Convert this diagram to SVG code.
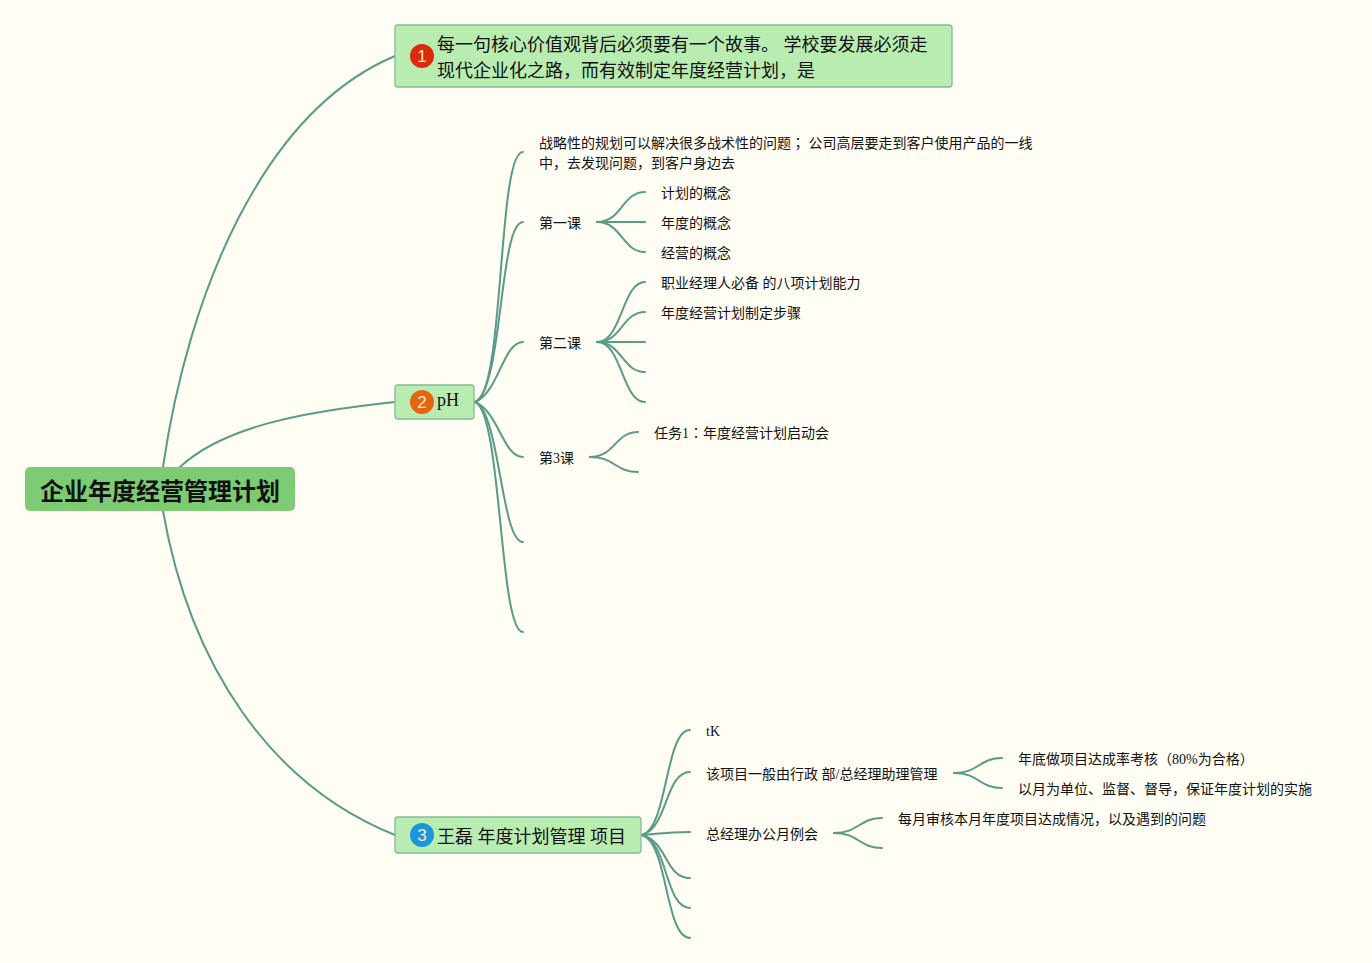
<svg xmlns="http://www.w3.org/2000/svg" width="1372" height="963" viewBox="0 0 1372 963">
<style>
text{font-family:"Liberation Serif","Noto Sans CJK SC",serif;fill:#111;}
.t{font-size:14px;}
.m{font-size:18px;}
.p{font-family:"Noto Sans CJK TC",sans-serif;}
.n{fill:#b9ecb0;stroke:#82bb9a;stroke-width:1.3;}
.c{fill:none;stroke:#5a9a88;stroke-width:2;stroke-linecap:round;}
.b{font-family:"Liberation Sans","Noto Sans",sans-serif;font-size:17px;fill:#ffe9c8;text-anchor:middle;}
</style>
<rect width="1372" height="963" fill="#fffdf4"/>
<g id="connectors">
<path class="c" d="M163 467C188 295 262 112 395 56"/>
<path class="c" d="M180 467C225 425 310 411 395 402"/>
<path class="c" d="M163 511C190 665 270 785 395 835"/>
<path class="c" d="M475 402C505 395 497 152 523 152"/>
<path class="c" d="M475 402C503 390 499 222 523 222"/>
<path class="c" d="M475 402C499 392 503 342 523 342"/>
<path class="c" d="M475 402C499 412 503 457 523 457"/>
<path class="c" d="M475 402C500 412 501 542 523 542"/>
<path class="c" d="M475 402C502 412 499 632 523 632"/>
<path class="c" d="M597 222C622 222 622 192 645 192"/>
<path class="c" d="M597 222H645"/>
<path class="c" d="M597 222C622 222 622 252 645 252"/>
<path class="c" d="M597 342C622 342 622 282 645 282"/>
<path class="c" d="M597 342C622 342 622 312 645 312"/>
<path class="c" d="M597 342H645"/>
<path class="c" d="M597 342C622 342 622 372 645 372"/>
<path class="c" d="M597 342C622 342 622 402 645 402"/>
<path class="c" d="M590 457C615 457 615 432 638 432"/>
<path class="c" d="M590 457C615 457 615 472 638 472"/>
<path class="c" d="M642 835C668 828 665 730 690 730"/>
<path class="c" d="M642 835C668 828 665 772 690 772"/>
<path class="c" d="M642 835C665 833 668 832 690 832"/>
<path class="c" d="M642 835C668 842 665 878 690 878"/>
<path class="c" d="M642 835C668 842 665 908 690 908"/>
<path class="c" d="M642 835C668 842 665 938 690 938"/>
<path class="c" d="M954 773C979 773 979 758 1002 758"/>
<path class="c" d="M954 773C979 773 979 788 1002 788"/>
<path class="c" d="M834 833C859 833 859 818 882 818"/>
<path class="c" d="M834 833C859 833 859 848 882 848"/>
</g>
<g id="root"><rect x="25" y="467" width="270" height="44" rx="5" fill="#7dcb73"/><text x="40" y="500" font-size="24" font-weight="700">企业年度经营管理计划</text></g>
<g id="node1"><rect class="n" x="395" y="25" width="557" height="62" rx="3"/><circle cx="422" cy="56" r="12" fill="#dc2a0c"/><text class="b" x="422" y="62">1</text><text class="m" x="437" y="51">每一句核心价值观背后必须要有一个故事。 学校要发展必须走</text><text class="m" x="437" y="77">现代企业化之路，而有效制定年度经营计划，是</text></g>
<g id="node2"><rect class="n" x="395" y="385" width="79" height="34" rx="3"/><circle cx="422" cy="402" r="12" fill="#e5640f"/><text class="b" x="422" y="408">2</text><text class="m" x="437" y="406">pH</text></g>
<g id="node3"><rect class="n" x="395" y="817" width="246" height="36" rx="3"/><circle cx="422" cy="835" r="12" fill="#1a97dc"/><text class="b" x="422" y="841">3</text><text class="m" x="437" y="843">王磊 年度计划管理 项目</text></g>
<g id="n-strategy"><text class="t" x="539" y="148">战略性的规划可以解决很多战术性的问题<tspan class="p">；</tspan> 公司高层要走到客户使用产品的一线</text><text class="t" x="539" y="168">中，去发现问题，到客户身边去</text></g>
<g id="n-lesson1"><text class="t" x="539" y="228">第一课</text></g>
<g id="n-l1a"><text class="t" x="661" y="198">计划的概念</text></g>
<g id="n-l1b"><text class="t" x="661" y="228">年度的概念</text></g>
<g id="n-l1c"><text class="t" x="661" y="258">经营的概念</text></g>
<g id="n-lesson2"><text class="t" x="539" y="348">第二课</text></g>
<g id="n-l2a"><text class="t" x="661" y="288">职业经理人必备 的八项计划能力</text></g>
<g id="n-l2b"><text class="t" x="661" y="318">年度经营计划制定步骤</text></g>
<g id="n-lesson3"><text class="t" x="539" y="463">第3课</text></g>
<g id="n-l3a"><text class="t" x="654" y="438">任务1<tspan class="p">：</tspan>年度经营计划启动会</text></g>
<g id="n-tk"><text class="t" x="706" y="736">tK</text></g>
<g id="n-proj"><text class="t" x="706" y="779">该项目一般由行政 部/总经理助理管理</text></g>
<g id="n-p1"><text class="t" x="1018" y="764">年底做项目达成率考核（80%为合格）</text></g>
<g id="n-p2"><text class="t" x="1018" y="794">以月为单位、监督、督导，保证年度计划的实施</text></g>
<g id="n-meet"><text class="t" x="706" y="839">总经理办公月例会</text></g>
<g id="n-m1"><text class="t" x="898" y="824">每月审核本月年度项目达成情况，以及遇到的问题</text></g>
</svg>
